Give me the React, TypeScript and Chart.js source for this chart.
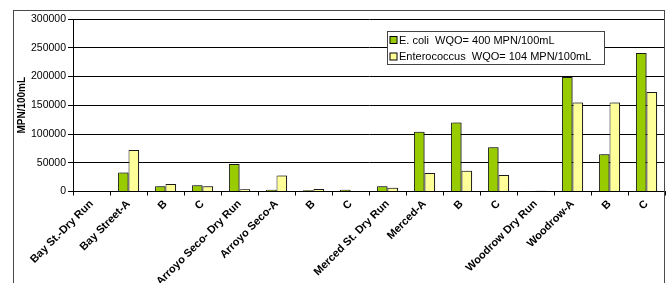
import React, { useEffect, useRef } from 'react';
import { Chart, registerables } from 'chart.js';

Chart.register(...registerables);

const categories = [
  'Bay St.-Dry Run', 'Bay Street-A', 'B', 'C',
  'Arroyo Seco- Dry Run', 'Arroyo Seco-A', 'B', 'C',
  'Merced St. Dry Run', 'Merced-A', 'B', 'C',
  'Woodrow Dry Run', 'Woodrow-A', 'B', 'C',
];
const ecoliValues = [800, 33000, 9000, 11000, 48000, 3000, 2000, 3000, 9000, 104000, 120000, 77000, 400, 199000, 65000, 241000];
const enteroValues = [1000, 72000, 13000, 9000, 4000, 28000, 4500, 800, 6500, 32000, 36000, 28500, 1300, 155000, 155000, 173000];
const seriesLabels = ['E. coli  WQO= 400 MPN/100mL', 'Enterococcus  WQO= 104 MPN/100mL'];
const seriesColors = ['#99CC00', '#FFFF99'];
const yMin = 0;
const yMax = 300000;
const yStep = 50000;
const yTitle = 'MPN/100mL';

const FONT = '"Liberation Sans", Arial, sans-serif';

const bgPlugin = {
  id: 'bg',
  beforeDraw(chart: any) {
    const ctx = chart.ctx;
    ctx.save();
    ctx.fillStyle = '#fff';
    ctx.fillRect(0, 0, chart.width, chart.height);
    ctx.restore();
  },
};

const shadowPlugin = {
  id: 'barShadow',
  beforeDatasetsDraw(chart: any) {
    const ctx = chart.ctx;
    ctx.save();
    ctx.shadowColor = 'rgba(0,0,0,0.45)';
    ctx.shadowOffsetX = 2;
    ctx.shadowOffsetY = 0;
    ctx.shadowBlur = 0;
  },
  afterDatasetsDraw(chart: any) {
    chart.ctx.restore();
  },
};

const decorPlugin = {
  id: 'decor',
  afterDraw(chart: any) {
    const ctx = chart.ctx;
    const area = chart.chartArea;

    // outer frame (1px, dark grey)
    ctx.save();
    ctx.fillStyle = '#4a4a4a';
    ctx.fillRect(13, 10, 1, chart.height - 10);
    ctx.fillRect(13, 10, 652, 1);
    ctx.fillRect(664, 10, 1, chart.height - 10);
    ctx.restore();

    // y-axis title
    ctx.save();
    ctx.translate(22.5, (area.top + area.bottom) / 2);
    ctx.rotate(-Math.PI / 2);
    ctx.font = `bold 10px ${FONT}`;
    ctx.fillStyle = '#000';
    ctx.textAlign = 'center';
    ctx.textBaseline = 'middle';
    ctx.fillText(yTitle, 0, 0);
    ctx.restore();

    // legend
    const lx = 387.5, ly = 31.5, lw = 217, lh = 33;
    ctx.save();
    ctx.fillStyle = '#fff';
    ctx.fillRect(lx, ly, lw, lh);
    ctx.strokeStyle = '#444';
    ctx.lineWidth = 1;
    ctx.strokeRect(lx, ly, lw, lh);
    ctx.font = `11px ${FONT}`;
    ctx.textBaseline = 'middle';
    ctx.textAlign = 'left';
    seriesLabels.forEach((label, i) => {
      const cy = ly + 8.5 + i * 16.5;
      ctx.fillStyle = seriesColors[i];
      ctx.fillRect(lx + 2.5, cy - 3.5, 7, 7);
      ctx.strokeStyle = '#000';
      ctx.strokeRect(lx + 2.5, cy - 3.5, 7, 7);
      ctx.fillStyle = '#000';
      ctx.fillText(label, lx + 11.5, cy + 0.5);
    });
    ctx.restore();
  },
};

export default function App() {
  const ref = useRef<HTMLCanvasElement>(null);
  useEffect(() => {
    if (!ref.current) return;
    const chart = new Chart(ref.current, {
      type: 'bar',
      data: {
        labels: categories,
        datasets: [
          {
            label: seriesLabels[0],
            data: ecoliValues,
            backgroundColor: seriesColors[0],
            borderColor: '#1a1a1a',
            borderWidth: 1,
            categoryPercentage: 2 / 3.5,
            barPercentage: 1,
          },
          {
            label: seriesLabels[1],
            data: enteroValues,
            backgroundColor: seriesColors[1],
            borderColor: '#1a1a1a',
            borderWidth: 1,
            categoryPercentage: 2 / 3.5,
            barPercentage: 1,
          },
        ],
      },
      options: {
        responsive: false,
        animation: false,
        devicePixelRatio: 1,
        layout: { padding: { top: 19, right: 5, left: 0, bottom: 0 } },
        plugins: {
          legend: { display: false },
          tooltip: { enabled: false },
        },
        scales: {
          x: {
            grid: {
              display: true,
              drawOnChartArea: false,
              drawTicks: true,
              tickLength: 4,
              color: '#000',
              offset: true,
            },
            border: { color: '#000', width: 1 },
            ticks: {
              autoSkip: false,
              maxRotation: 45,
              minRotation: 45,
              padding: 2,
              color: '#000',
              font: { family: FONT, size: 11, weight: 'bold' },
            },
            afterFit(scale: any) {
              scale.height = 91.5;
              scale.paddingLeft = 0;
              scale.paddingRight = 0;
            },
          },
          y: {
            min: yMin,
            max: yMax,
            grid: {
              color: '#000',
              lineWidth: 1,
              tickLength: 5,
              drawTicks: true,
            },
            border: { color: '#000', width: 1 },
            ticks: {
              stepSize: yStep,
              padding: 2,
              color: '#000',
              font: { family: FONT, size: 10.5 },
              callback: (v: any) => String(v),
            },
            afterFit(scale: any) {
              scale.width = 73;
              scale.paddingTop = 0;
              scale.paddingBottom = 0;
            },
          },
        },
      },
      plugins: [bgPlugin, shadowPlugin, decorPlugin],
    });
    return () => chart.destroy();
  }, []);

  return (
    <div style={{ position: 'absolute', left: 0, top: 0, width: 670, height: 283, overflow: 'hidden', background: '#fff' }}>
      <canvas ref={ref} width={670} height={283} style={{ position: 'absolute', left: 0, top: 0, display: 'block' }} />
    </div>
  );
}
